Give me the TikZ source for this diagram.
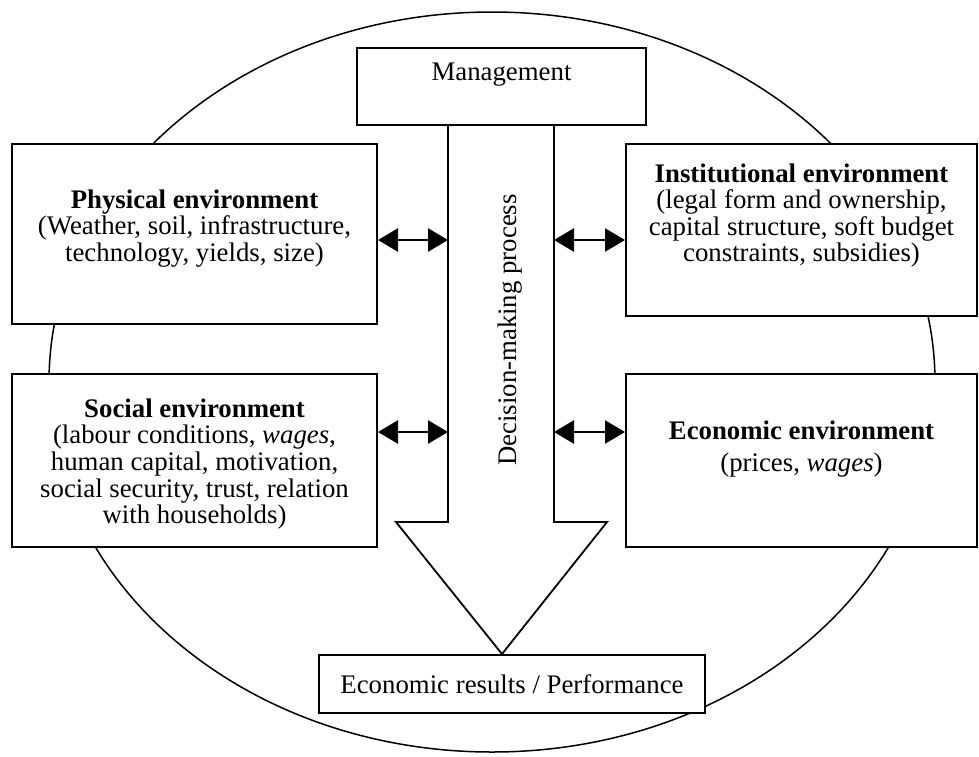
\documentclass[tikz,border=0pt]{standalone}
\usepackage{fontspec}
\setmainfont{Liberation Serif}
\usetikzlibrary{arrows.meta, positioning, calc}
\newlength{\pxu}
\setlength{\pxu}{0.5pt}

\begin{document}
\begin{tikzpicture}[x=0.5pt,y=-0.5pt,>={Triangle[length=10pt,width=11.5pt]},
        every node/.style={font=\fontsize{13.4}{13.3}\selectfont},
        envbox/.style={draw,fill=white,line width=1pt,rectangle,inner sep=0pt},
        boxtext/.style={align=center,inner sep=0pt},
        bigarrow/.style={draw,fill=white,line width=0.9pt,line join=miter},
        link/.style={<->,line width=1.3pt}]

        \useasboundingbox (0,0) rectangle (979,756);

        % surrounding environment
        \draw[line width=0.75pt] (492,382) ellipse [x radius=221.5pt, y radius=185pt];

        % boxes
        \node[envbox,minimum width=289\pxu,minimum height=77\pxu] (mgmt) at (501.5,86.5) {};
        \node[envbox,minimum width=365\pxu,minimum height=180\pxu] (phys) at (194.5,234) {};
        \node[envbox,minimum width=365\pxu,minimum height=173\pxu] (social) at (194.5,460.5) {};
        \node[envbox,minimum width=351\pxu,minimum height=172\pxu] (inst) at (801.5,230) {};
        \node[envbox,minimum width=351\pxu,minimum height=173\pxu] (econ) at (801.5,460.5) {};
        \node[envbox,minimum width=386\pxu,minimum height=58\pxu] (result) at (512,684) {Economic results / Performance};

        % texts
        \node[boxtext] (mgmt-txt) at ($(mgmt.center)+(0,-11.5)$) {Management};
        \node[boxtext] (phys-txt) at ($(phys.center)+(0,-5.5)$)
            {\textbf{Physical environment}\\(Weather, soil, infrastructure,\\technology, yields, size)};
        \node[boxtext] (social-txt) at ($(social.center)+(0,3.5)$)
            {\textbf{Social environment}\\(labour conditions, \textit{wages},\\human capital, motivation,\\social security, trust, relation\\with households)};
        \node[boxtext] (inst-txt) at ($(inst.center)+(0,-14.5)$)
            {\textbf{Institutional environment}\\(legal form and ownership,\\capital structure, soft budget\\constraints, subsidies)};
        \node[boxtext] (econ-txt) at ($(econ.center)+(0,-11.5)$)
            {\textbf{Economic environment}\\[2.5pt](prices, \textit{wages})};

        % decision-making arrow
        \coordinate (shaftL) at ($(mgmt.south)+(-53.5,0)$);
        \coordinate (shaftR) at ($(mgmt.south)+(52.5,0)$);
        \coordinate (tip) at ($(result.north)+(-10,0)$);
        \draw[bigarrow] (shaftL) -- ++(0,396) -- ++(-52,0) -- (tip)
            -- ($(shaftR)+(53,396)$) -- ++(-53,0) -- (shaftR);
        \node[rotate=90] (decide) at (510,330) {Decision-making process};

        % links to the environments
        \coordinate (hookPL) at (448,240);
        \coordinate (hookSL) at (448,432);
        \coordinate (hookIR) at (554,240);
        \coordinate (hookER) at (554,432);
        \draw[link] (phys.east |- hookPL) -- (hookPL);
        \draw[link] (social.east |- hookSL) -- (hookSL);
        \draw[link] (hookIR) -- (inst.west |- hookIR);
        \draw[link] (hookER) -- (econ.west |- hookER);
    \end{tikzpicture}
\end{document}
